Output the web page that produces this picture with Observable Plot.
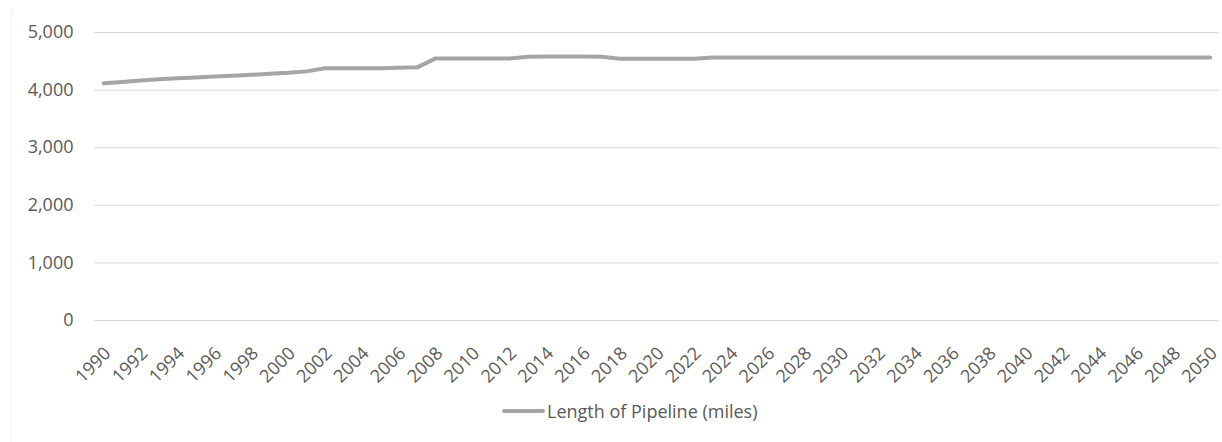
<!DOCTYPE html>
<html>
<head>
<meta charset="utf-8">
<script src="https://cdn.jsdelivr.net/npm/d3@7"></script>
<script src="https://cdn.jsdelivr.net/npm/@observablehq/plot@0.6"></script>
<style>
  html, body { margin: 0; padding: 0; background: #fff; }
  #wrap { position: relative; width: 1222px; height: 442px; overflow: hidden; font-family: "Open Sans", sans-serif; }
  #border { position: absolute; left: 11px; top: 10px; width: 1px; height: 432px; background: #EFEFEF; }
  #chart { position: absolute; left: 0; top: 0; }
  #legend { position: absolute; left: 502px; top: 399px; display: flex; align-items: center; font-size: 18px; color: #595959; white-space: nowrap; }
  #legend .sw { width: 43px; height: 4px; background: #A5A5A5; border-radius: 2px; margin-right: 2px; }
</style>
</head>
<body>
<div id="wrap">
  <div id="border"></div>
  <div id="chart"></div>
  <div id="legend"><span class="sw"></span><span id="legtext"></span></div>
</div>
<script>
const seriesName = "Length of Pipeline (miles)";
const years = d3.range(1990, 2051);
const pipelineMiles = [
  4120, 4140, 4165, 4190, 4205, 4220, 4235, 4250, 4265, 4285,
  4300, 4325, 4380, 4380, 4380, 4380, 4390, 4395, 4550, 4550,
  4550, 4550, 4550, 4580, 4585, 4585, 4585, 4580, 4545, 4545,
  4545, 4545, 4545, 4565, 4565, 4565, 4565, 4565, 4565, 4565,
  4565, 4565, 4565, 4565, 4565, 4565, 4565, 4565, 4565, 4565,
  4565, 4565, 4565, 4565, 4565, 4565, 4565, 4565, 4565, 4565,
  4565
];
const xTickYears = years.filter(y => y % 2 === 0);
const yTicks = [0, 1000, 2000, 3000, 4000, 5000];

const data = years.map((year, i) => ({year, value: pipelineMiles[i]}));

const chart = Plot.plot({
  width: 1222,
  height: 442,
  marginLeft: 94,
  marginRight: 3,
  marginTop: 32,
  marginBottom: 122,
  style: {fontFamily: "Open Sans, sans-serif", fontSize: "18px", color: "#595959", background: "transparent"},
  x: {type: "linear", domain: [1989.5, 2050.5]},
  y: {domain: [0, 5000]},
  marks: [
    Plot.gridY(yTicks, {stroke: "#D9D9D9", strokeOpacity: 1, strokeWidth: 1}),
    Plot.axisY(yTicks, {tickSize: 0, tickPadding: 21, tickFormat: d3.format(","), fill: "#595959", label: null}),
    Plot.axisX(xTickYears, {tickSize: 0, tickPadding: 30, tickRotate: -45, tickFormat: d => String(d), fill: "#595959", label: null, dx: 4}),
    Plot.lineY(data, {x: "year", y: "value", stroke: "#A5A5A5", strokeWidth: 4, strokeLinejoin: "round", strokeLinecap: "round"})
  ]
});
document.getElementById("chart").appendChild(chart);
document.getElementById("legtext").textContent = seriesName;
</script>
</body>
</html>
